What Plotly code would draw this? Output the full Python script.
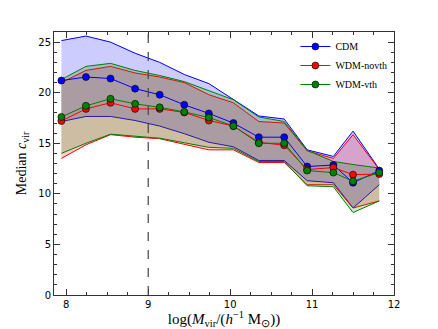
import plotly.graph_objects as go

x = [7.94, 8.24, 8.54, 8.84, 9.14, 9.44, 9.74, 10.04, 10.35, 10.66, 10.94, 11.26, 11.50, 11.82]

cdm_med = [21.2, 21.55, 21.4, 20.4, 19.8, 18.8, 17.95, 17.0, 15.6, 15.6, 12.7, 12.85, 11.1, 12.3]
cdm_up = [25.15, 25.6, 25.0, 23.9, 23.0, 21.8, 20.9, 19.3, 17.7, 17.4, 14.35, 13.7, 16.2, 12.45]
cdm_lo = [17.15, 17.65, 17.65, 17.25, 16.7, 15.95, 15.1, 14.65, 13.3, 13.3, 11.3, 11.1, 8.6, 10.9]

nov_med = [17.2, 18.4, 19.0, 18.4, 18.4, 18.05, 17.25, 16.7, 15.1, 14.8, 12.4, 12.6, 11.9, 11.95]
nov_up = [21.0, 22.2, 22.6, 21.95, 21.55, 21.0, 19.8, 19.0, 17.15, 17.0, 14.25, 13.5, 15.85, 12.4]
nov_lo = [13.5, 14.85, 15.85, 15.6, 15.45, 14.9, 14.35, 14.35, 13.1, 13.1, 10.9, 10.9, 8.6, 9.3]

vth_med = [17.6, 18.7, 19.4, 18.9, 18.55, 18.1, 17.55, 16.7, 15.0, 15.0, 12.3, 12.1, 11.25, 12.1]
vth_up = [21.3, 22.6, 22.9, 22.2, 21.7, 21.1, 20.2, 19.3, 17.6, 17.15, 14.3, 13.2, 12.9, 12.55]
vth_lo = [14.0, 15.0, 15.9, 15.7, 15.5, 15.05, 14.6, 14.5, 13.2, 13.2, 10.8, 10.7, 8.15, 9.3]

names = ["CDM", "WDM-novth", "WDM-vth"]
colors = ["#0000ff", "#ff0000", "#008000"]
fills = ["rgba(0,0,255,0.2)", "rgba(255,0,0,0.2)", "rgba(0,128,0,0.2)"]
meds = [cdm_med, nov_med, vth_med]
ups = [cdm_up, nov_up, vth_up]
los = [cdm_lo, nov_lo, vth_lo]

fig = go.Figure()
for name, c, fc, lo, up in zip(names, colors, fills, los, ups):
    fig.add_trace(go.Scatter(x=x, y=lo, mode="lines", line=dict(color=c, width=1),
                             showlegend=False, hoverinfo="skip"))
    fig.add_trace(go.Scatter(x=x, y=up, mode="lines", line=dict(color=c, width=1),
                             fill="tonexty", fillcolor=fc, showlegend=False, hoverinfo="skip"))
for name, c, med in zip(names, colors, meds):
    fig.add_trace(go.Scatter(x=x, y=med, mode="lines+markers", name=name,
                             line=dict(color=c, width=1),
                             marker=dict(color=c, size=7, line=dict(color="black", width=0.6))))

fig.add_shape(type="line", x0=9, x1=9, y0=0, y1=26, xref="x", yref="y",
              line=dict(color="#444444", width=1.2, dash="dash"))

axis_common = dict(showgrid=False, zeroline=False, showline=True, linecolor="#333333",
                   linewidth=1, mirror="allticks", ticks="inside", ticklen=6, automargin=False,
                   tickcolor="#333333", tickfont=dict(family="DejaVu Sans", size=10, color="black"))

fig.update_xaxes(range=[7.85, 12], tickvals=[8, 9, 10, 11, 12],
                 minor=dict(dtick=0.25, tick0=8, ticks="inside", ticklen=3, tickcolor="#333333"),
                 title=dict(text="log(<i>M</i><sub>vir</sub>/(<i>h</i><sup>−1</sup> M<sub>⊙</sub>))",
                            font=dict(family="Liberation Serif", size=15, color="black"), standoff=4),
                 **axis_common)
fig.update_yaxes(range=[0, 26], tickvals=[0, 5, 10, 15, 20, 25],
                 minor=dict(dtick=1, tick0=0, ticks="inside", ticklen=3, tickcolor="#333333"),
                 title=dict(text="Median <i>c</i><sub>vir</sub>",
                            font=dict(family="Liberation Serif", size=14, color="black"), standoff=8),
                 **axis_common)

fig.update_layout(
    width=430, height=321,
    margin=dict(l=46, r=44, t=24, b=34),
    plot_bgcolor="white", paper_bgcolor="white",
    legend=dict(x=0.71, y=1.0, xanchor="left", yanchor="top", traceorder="normal",
                font=dict(family="Liberation Serif", size=10, color="black"),
                bgcolor="rgba(0,0,0,0)", itemwidth=30, tracegroupgap=0),
)

fig.write_html("out.html")
